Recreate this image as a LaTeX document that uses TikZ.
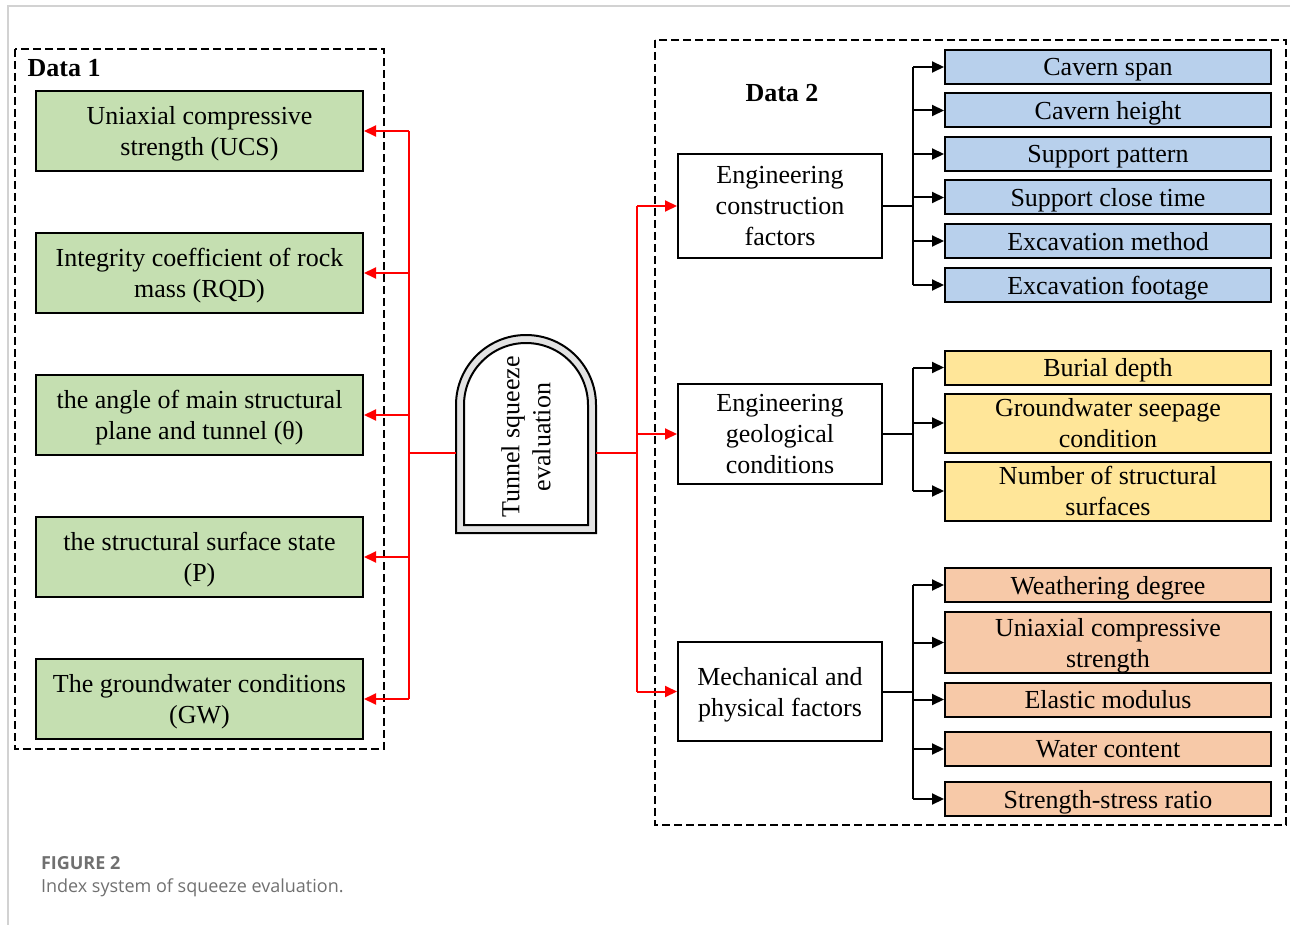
\documentclass[tikz,border=0pt]{standalone}
\usepackage{fontspec}
\setmainfont{Liberation Serif}
\newfontfamily\capfont{Open Sans}
\usetikzlibrary{arrows.meta,calc,positioning}
\definecolor{leafgreen}{HTML}{C5DFB1}
\definecolor{skyblue}{HTML}{B8D0EC}
\definecolor{paleyellow}{HTML}{FFE699}
\definecolor{peach}{HTML}{F7C9A8}
\definecolor{capgray}{HTML}{707070}

\begin{document}
\begin{tikzpicture}[x=0.5pt,y=-0.5pt,line width=1pt,>={Triangle[length=6pt,width=5.5pt]},
    font=\fontsize{13}{15.5}\selectfont]
    \tikzstyle{index}=[draw, line width=1pt, fill=leafgreen, minimum width=163.5pt, minimum height=40pt, inner sep=1pt, text depth=0pt, align=center]
    \tikzstyle{factor}=[draw, line width=1pt, fill=white, minimum width=102pt, inner sep=1pt, text depth=0pt, align=center]
    \tikzstyle{item}=[draw, line width=1pt, minimum width=163pt, minimum height=17pt, inner sep=1pt, text depth=0pt, align=center]
    \tikzstyle{datafrm}=[draw, line width=1pt, dash pattern=on 4pt off 2pt]
    \tikzstyle{link}=[draw=red, line width=1pt]
    \useasboundingbox (0,0) rectangle (1290,925);

    % page frame and caption
    \draw[gray!35, line width=0.8pt] (1290,6) -- (8,6) -- (8,925);
    \node[anchor=west, inner sep=0pt, text=capgray, font=\capfont\fontsize{9}{11}\selectfont\bfseries] (fig) at (40,863) {FIGURE 2};
    \node[anchor=west, inner sep=0pt, text=capgray, font=\capfont\fontsize{9}{11}\selectfont] (cap) at (40,888) {Index system of squeeze evaluation.};

    % Data 1
    \draw[datafrm] (15,49) rectangle (384,749);
    \node[anchor=west, font=\fontsize{13}{15.5}\selectfont\bfseries] (d1) at (20,68) {Data 1};
    \node[index] (ucs) at (199.5,131) {Uniaxial compressive\\strength (UCS)};
    \node[index] (rqd) at (199.5,273) {Integrity coefficient of rock\\mass (RQD)};
    \node[index] (ang) at (199.5,415) {the angle of main structural\\plane and tunnel (θ)};
    \node[index] (sss) at (199.5,557) {the structural surface state\\(P)};
    \node[index] (gw)  at (199.5,699) {The groundwater conditions\\(GW)};

    % tunnel
    \draw[line width=1pt, fill=gray!22] (456,533) -- (456,405) arc (180:360:70) -- (596,533) -- cycle;
    \draw[line width=1pt, fill=white] (464,525) -- (464,405) arc (180:360:62) -- (588,525) -- cycle;
    \node[rotate=90, align=center] (tse) at (526,437) {Tunnel squeeze\\evaluation};
    \coordinate (tl) at (456,453);
    \coordinate (tr) at (596,453);

    % red links, left
    \coordinate (rl) at (409,453);
    \draw[link] (tl) -- (rl);
    \draw[link] (rl |- ucs.east) -- (rl |- gw.east);
    \foreach \n in {ucs,rqd,ang,sss,gw}
        \draw[link,->] (rl |- \n.east) -- (\n.east);

    % Data 2
    \draw[datafrm] (655,40) rectangle (1286,825);
    \node[font=\fontsize{13}{15.5}\selectfont\bfseries] (d2) at (782,93) {Data 2};
    \node[factor, minimum height=52pt]   (ecf) at (780,206) {Engineering\\construction\\factors};
    \node[factor, minimum height=50pt]   (egc) at (780,434) {Engineering\\geological\\conditions};
    \node[factor, minimum height=49.5pt] (mpf) at (780,691.5) {Mechanical and\\physical factors};

    % red links, right
    \coordinate (rr) at (637,453);
    \draw[link] (tr) -- (rr);
    \draw[link] (rr |- ecf.west) -- (rr |- mpf.west);
    \foreach \n in {ecf,egc,mpf}
        \draw[link,->] (rr |- \n.west) -- (\n.west);

    % construction factors
    \node[item, fill=skyblue] (c1) at (1108,67)    {Cavern span};
    \node[item, fill=skyblue] (c2) at (1108,110.5) {Cavern height};
    \node[item, fill=skyblue] (c3) at (1108,154)   {Support pattern};
    \node[item, fill=skyblue] (c4) at (1108,197.5) {Support close time};
    \node[item, fill=skyblue] (c5) at (1108,241)   {Excavation method};
    \node[item, fill=skyblue] (c6) at (1108,285)   {Excavation footage};

    % geological conditions
    \node[item, fill=paleyellow] (g1) at (1108,367.5) {Burial depth};
    \node[item, fill=paleyellow, minimum height=29.5pt] (g2) at (1108,423) {Groundwater seepage\\condition};
    \node[item, fill=paleyellow, minimum height=29.5pt] (g3) at (1108,491) {Number of structural\\surfaces};

    % mechanical and physical factors
    \node[item, fill=peach] (m1) at (1108,585)   {Weathering degree};
    \node[item, fill=peach, minimum height=30.5pt] (m2) at (1108,642.5) {Uniaxial compressive\\strength};
    \node[item, fill=peach] (m3) at (1108,699.5) {Elastic modulus};
    \node[item, fill=peach] (m4) at (1108,749)   {Water content};
    \node[item, fill=peach] (m5) at (1108,799)   {Strength-stress ratio};

    % black branches
    \coordinate (bx) at (913,0);
    \draw (ecf.east) -- (ecf.east -| bx);
    \draw (bx |- c1.west) -- (bx |- c6.west);
    \foreach \n in {c1,c2,c3,c4,c5,c6}
        \draw[->] (bx |- \n.west) -- (\n.west);
    \draw (egc.east) -- (egc.east -| bx);
    \draw (bx |- g1.west) -- (bx |- g3.west);
    \foreach \n in {g1,g2,g3}
        \draw[->] (bx |- \n.west) -- (\n.west);
    \draw (mpf.east) -- (mpf.east -| bx);
    \draw (bx |- m1.west) -- (bx |- m5.west);
    \foreach \n in {m1,m2,m3,m4,m5}
        \draw[->] (bx |- \n.west) -- (\n.west);
\end{tikzpicture}
\end{document}
